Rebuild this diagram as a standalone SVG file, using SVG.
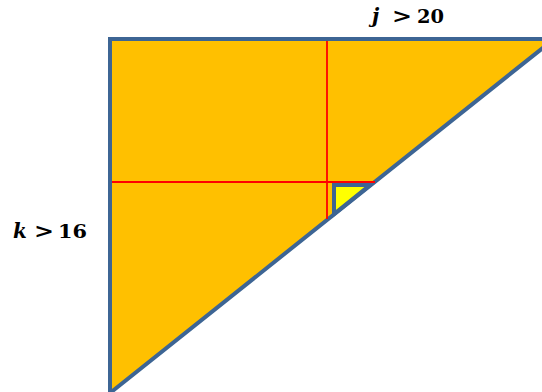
<svg xmlns="http://www.w3.org/2000/svg" width="542" height="392" viewBox="0 0 542 392">
<style>
.shape{fill:#FFC000;stroke:#3D6594;stroke-width:4;stroke-linejoin:miter}
.small{fill:#FFFF00;stroke:#3D6594;stroke-width:4}
.red{stroke:#FF0000;stroke-width:1.8;fill:none}
.m{font-family:"DejaVu Serif","Liberation Serif",serif;font-weight:bold;font-size:18px;fill:#000}
.it{font-style:italic;font-size:20px}
.gt{font-size:20px}
</style>
<rect width="542" height="392" fill="#FFFFFF"/>
<g id="big-triangle">
<polygon class="shape" points="110,39 554,39 110,393"/>
</g>
<g id="connectors">
<line class="red" x1="327" y1="41" x2="327" y2="219"/>
<line class="red" x1="112" y1="182" x2="375" y2="182"/>
</g>
<g id="small-triangle">
<polygon class="small" points="334,185 370,185 334,214"/>
</g>
<g id="label-j">
<text class="m it" x="372" y="22.5">j</text>
<text class="m gt" x="392" y="22.5" textLength="20" lengthAdjust="spacingAndGlyphs">&gt;</text>
<text class="m" x="417" y="22.5" textLength="27" lengthAdjust="spacingAndGlyphs">20</text>
</g>
<g id="label-k">
<text class="m it" x="13" y="237.5">k</text>
<text class="m gt" x="34" y="237.5" textLength="20" lengthAdjust="spacingAndGlyphs">&gt;</text>
<text class="m" x="58" y="237.5" textLength="29" lengthAdjust="spacingAndGlyphs">16</text>
</g>
</svg>
